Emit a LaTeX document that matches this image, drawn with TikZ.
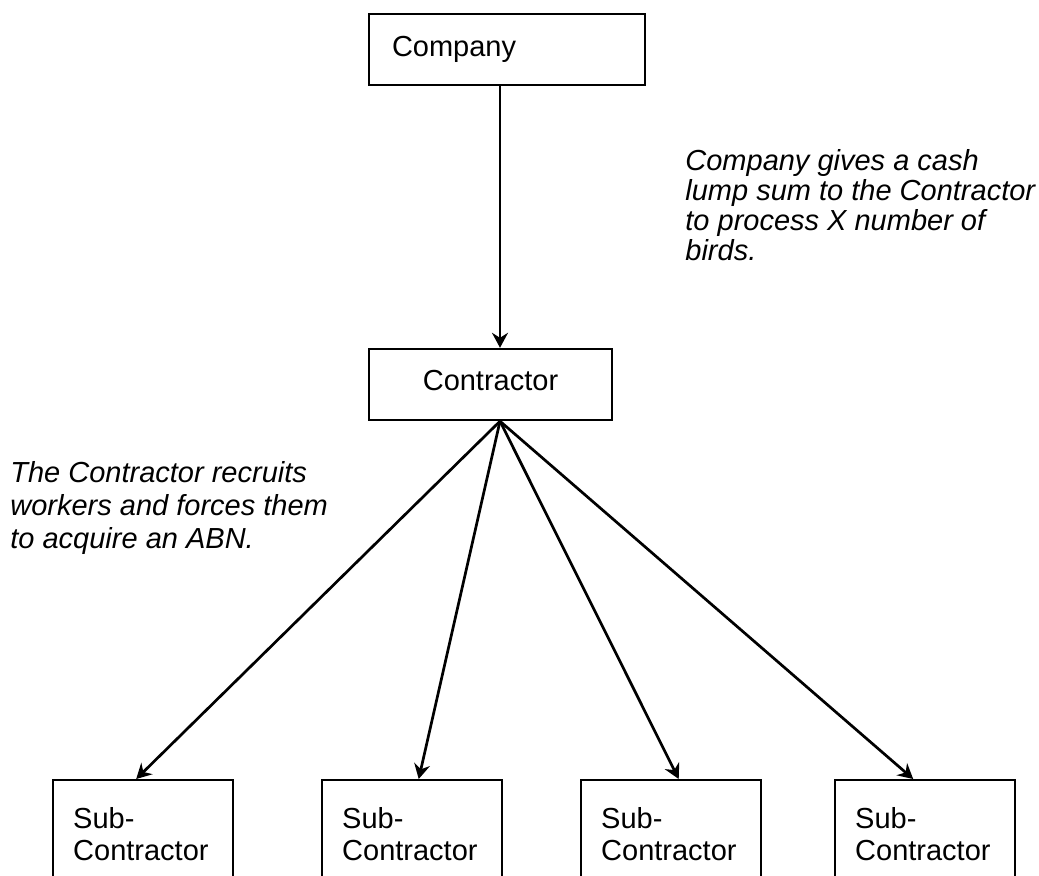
\documentclass[tikz,border=0pt]{standalone}
\usepackage{fontspec}
\setmainfont{Liberation Sans}
\usetikzlibrary{arrows.meta,calc,positioning}
\tikzset{
	box/.style={draw, line width=1.2pt, inner sep=0pt, font=\fontsize{14.5}{16}\selectfont},
	subbox/.style={box, anchor=north west, text width=70pt, inner xsep=10pt, inner ysep=13.5pt, align=left, execute at end node={\rule[-30pt]{0pt}{1pt}}},
	flow/.style={line width=1.35pt, -{Stealth[length=7.5pt, width=8pt, inset=2.5pt]}},
	note/.style={inner sep=0pt, anchor=base west, align=left, font=\fontsize{14.5}{15}\selectfont\itshape}
}

\begin{document}
\begin{tikzpicture}[x=0.5pt, y=-0.5pt]
		%%%%% START %%%%%
		\useasboundingbox (0, 0) rectangle (1039, 875);
		\clip (0, 0) rectangle (1039, 875);
		
		\node[box, text width=115pt, inner xsep=11.5pt, minimum height=35.5pt, align=left] (company) at (507, 49.5) {Company};
		\node[box, minimum width=121.5pt, minimum height=35.5pt, text depth=4pt] (contractor) at (490.5, 384.5) {Contractor};
		
		\coordinate (drop) at ($(company.south)+(-7, 0)$);
		\coordinate (hub) at ($(contractor.south)+(9.5, 0)$);
		\draw[flow] (drop) -- (drop |- contractor.north);
		
		% base anchor sits on the last line
		\node[note] (givesnote) at (685, 260) {Company gives a cash\\lump sum to the Contractor\\to process X number of\\birds.};
		\node[note, font=\fontsize{14.5}{16.5}\selectfont\itshape] (recruitnote) at (10, 548) {The Contractor recruits\\workers and forces them\\to acquire an ABN.};
		
		\foreach \name/\left in {sub1/52, sub2/321, sub3/580, sub4/834}
			\node[subbox] (\name) at (\left, 779) {Sub-\\Contractor};
		
		\foreach \name/\dx in {sub1/-7, sub2/6.5, sub3/7.5, sub4/-12}
			\draw[flow] (hub) -- ($(\name.north)+(\dx, 0)$);
		
		%%%%% END %%%%%
	\end{tikzpicture}
\end{document}
